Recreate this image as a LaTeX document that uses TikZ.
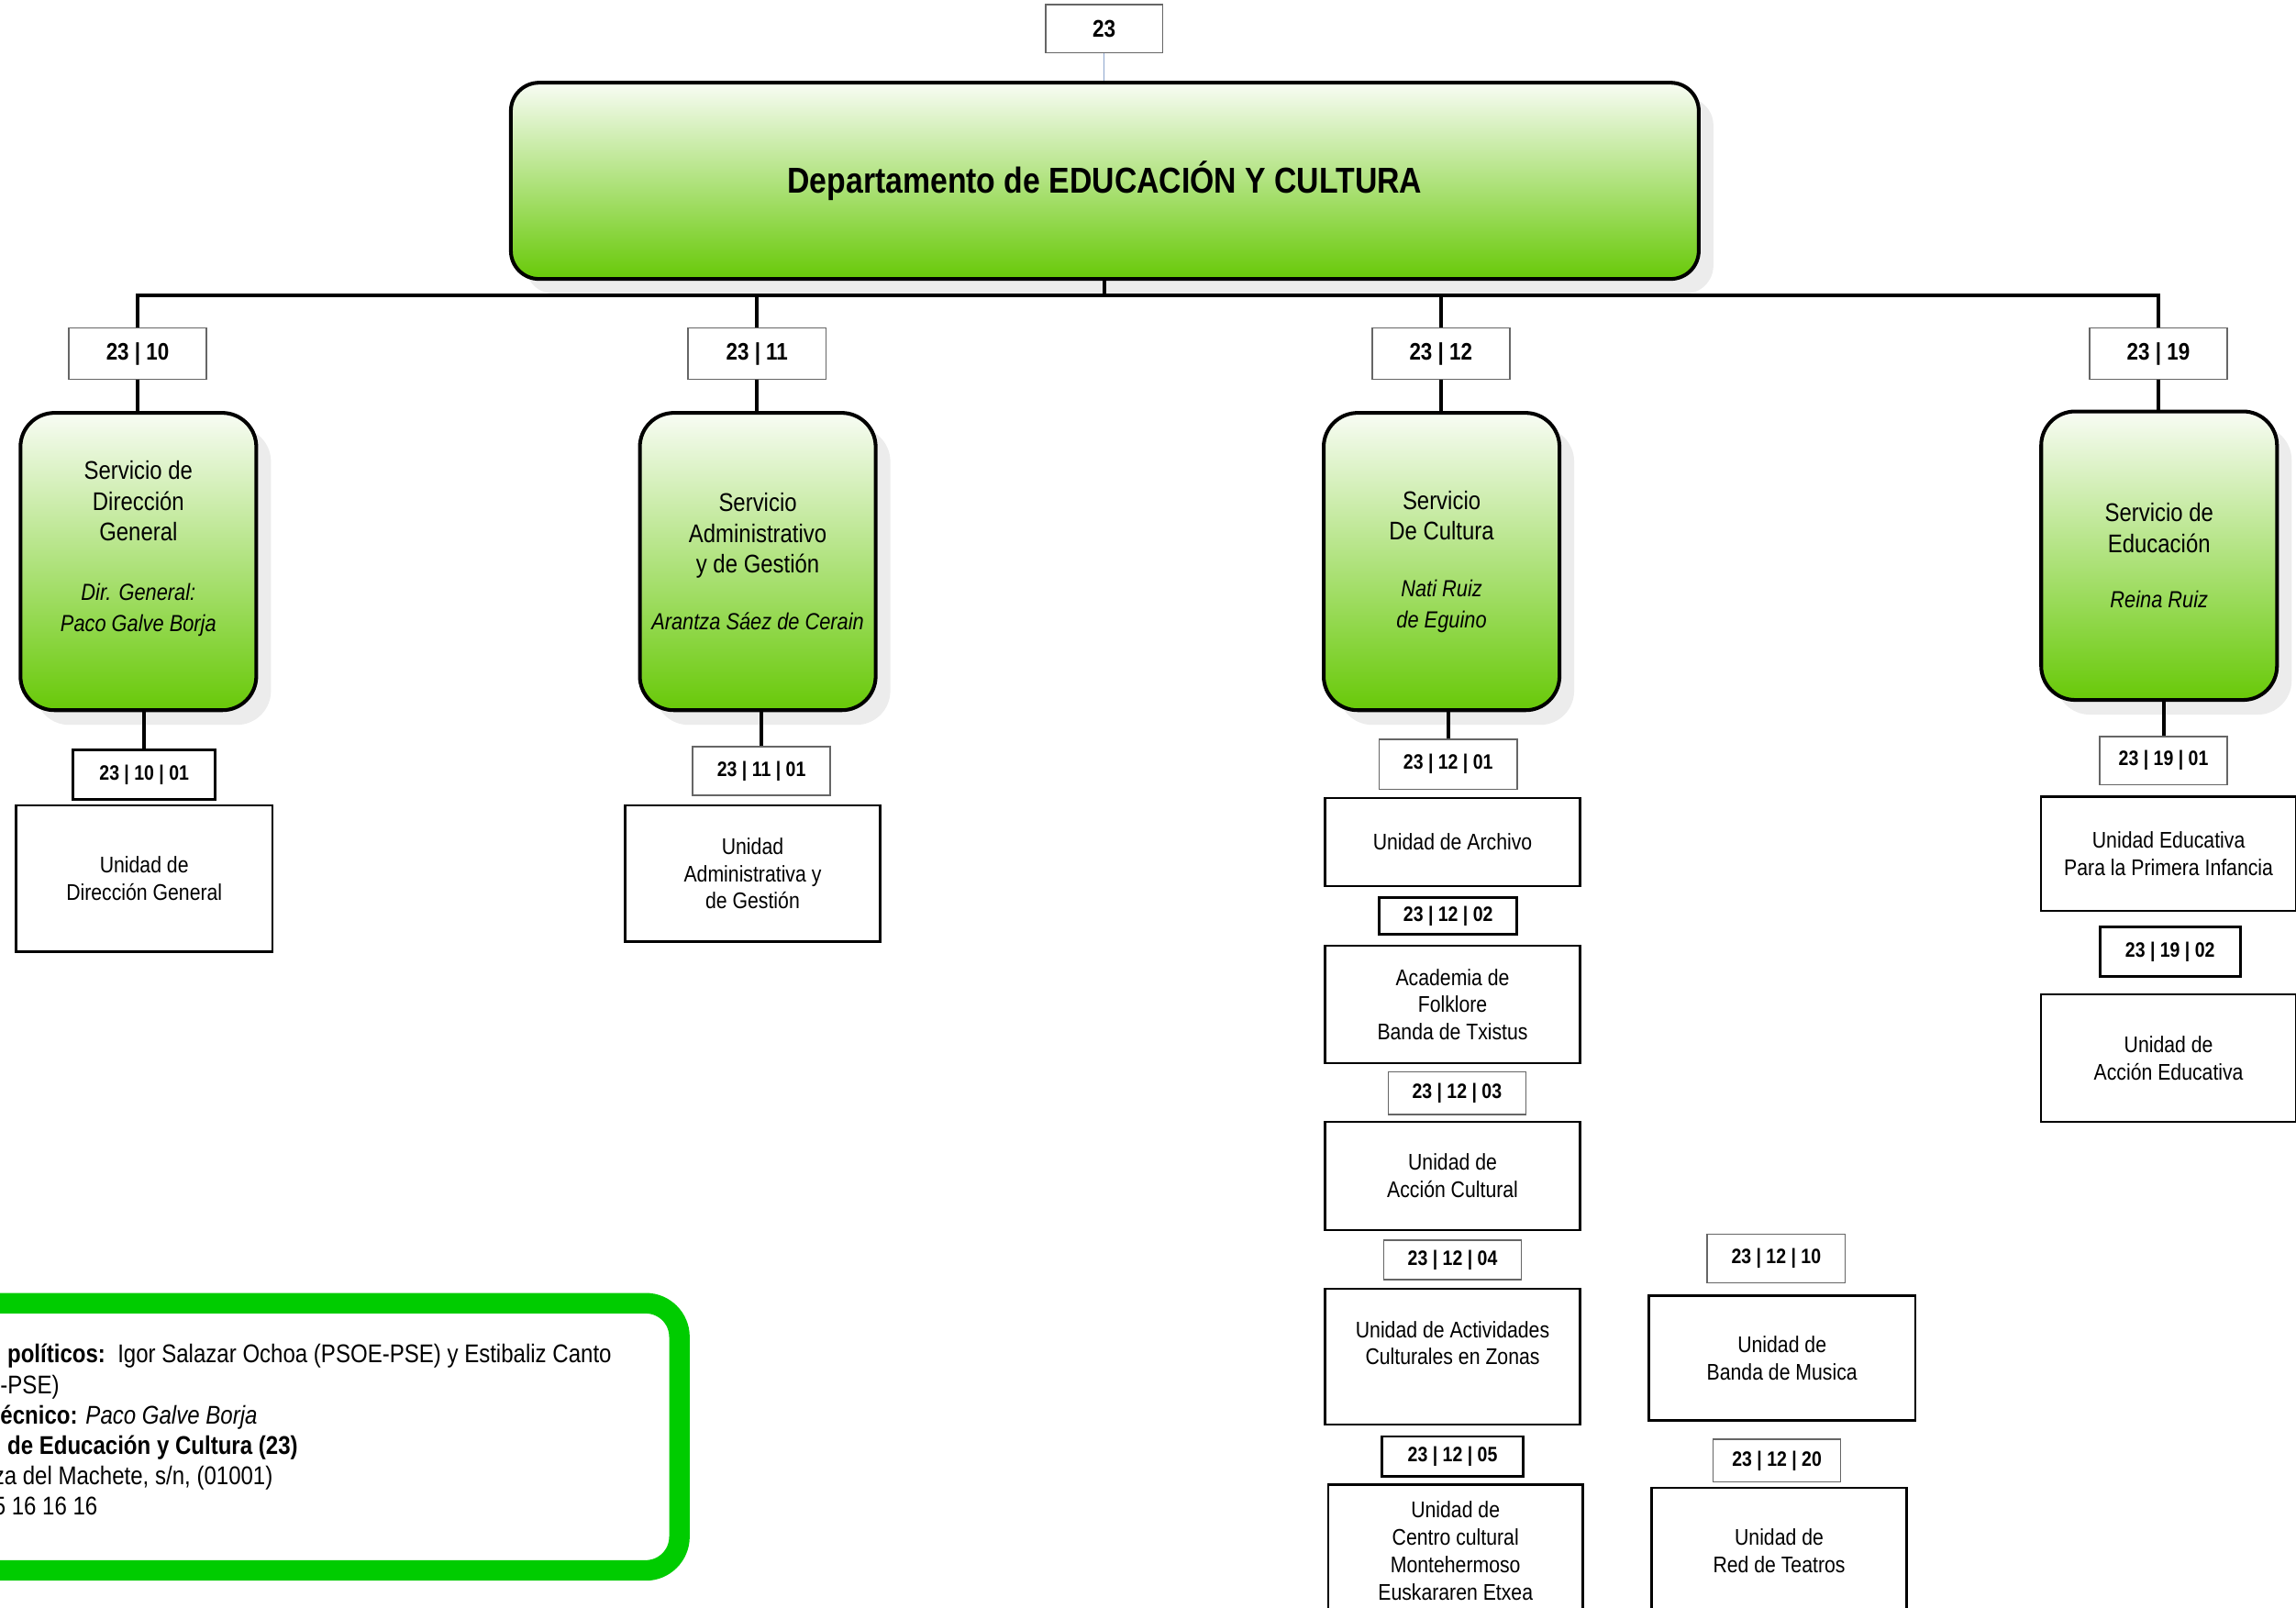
\documentclass[tikz,border=0pt]{standalone}
\usepackage{fontspec}
\setmainfont{Liberation Sans}[FakeStretch=0.86]
\usepackage{tikz}
\usetikzlibrary{shadows, positioning}
\definecolor{cLeaf}{RGB}{104,201,8}
\definecolor{cPale}{RGB}{248,252,244}
\definecolor{cLime}{RGB}{0,204,0}
\definecolor{cLink}{RGB}{140,165,205}
\definecolor{cShade}{RGB}{236,236,236}
\newcommand{\jefe}[1]{{\fontsize{11.3}{14}\selectfont\itshape #1}}
\tikzset{
	deptbox/.style  ={rectangle, rounded corners=0.48cm, draw=black, line width=1.8pt, top color=cPale, bottom color=cLeaf, align=center, font=\fontsize{17.5}{21}\selectfont\bfseries, drop shadow={shadow xshift=0.25cm, shadow yshift=-0.25cm, fill=cShade, opacity=1}},
	servbox/.style  ={rectangle, rounded corners=0.58cm, draw=black, line width=1.8pt, top color=cPale, bottom color=cLeaf, minimum width=4.025cm, minimum height=5.075cm, align=center, font=\fontsize{12.4}{14.9}\selectfont, drop shadow={shadow xshift=0.25cm, shadow yshift=-0.25cm, fill=cShade, opacity=1}},
	% code boxes
	codebox/.style  ={rectangle, draw=black!60, line width=0.7pt, fill=white, minimum width=2.35cm, minimum height=0.825cm, inner sep=0pt, font=\fontsize{10.1}{12}\selectfont\bfseries},
	codethick/.style={codebox, draw=black, line width=1.3pt},
	codetop/.style  ={codebox, minimum height=0.875cm, font=\fontsize{11.6}{14}\selectfont\bfseries},
	% units
	unitbox/.style  ={rectangle, draw=black, line width=1.1pt, fill=white, minimum width=4.35cm, inner sep=0pt, align=center, font=\fontsize{11}{13.3}\selectfont},
	trunk/.style    ={line width=1.8pt, black},
	legendframe/.style={draw=cLime, line width=0.35cm, rounded corners=0.575cm},
}

\begin{document}
\begin{tikzpicture}[x=0.025cm, y=-0.025cm]
	\path[use as bounding box] (0,0) rectangle (1568,1098);
	\clip (0,0) rectangle (1568,1098);
	\fill[white] (0,0) rectangle (1568,1098);

	\node[codebox, minimum width=2cm, font=\fontsize{11.7}{14}\selectfont\bfseries] (d23) at (754,19.5) {23};
	\node[deptbox, minimum width=20.275cm, minimum height=3.35cm] (dep) at (754.5,123.5) {Departamento de EDUCACIÓN Y CULTURA};
	\draw[cLink, line width=0.6pt] (d23.south) -- (d23.south |- dep.north);

	\node[codetop] (c10) at (94,241.5) {23 | 10};
	\node[codetop] (c11) at (517,241.5) {23 | 11};
	\node[codetop] (c12) at (984,241.5) {23 | 12};
	\node[codetop] (c19) at (1474,241.5) {23 | 19};

	\coordinate (bus) at (754,202);
	\draw[trunk] (dep.south) -- (dep.south |- bus);
	\draw[trunk] (c10.north) -- (c10.north |- bus) -- (c19.north |- bus) -- (c19.north);
	\draw[trunk] (c11.north) -- (c11.north |- bus);
	\draw[trunk] (c12.north) -- (c12.north |- bus);

	\node[servbox] (s10) at (94.5,383.5) {Servicio de\\Dirección\\General\\[0.5cm]\jefe{Dir. General:}\\\jefe{Paco Galve Borja}\\\mbox{}};
	\node[servbox] (s11) at (517.5,383.5) {Servicio\\Administrativo\\y de Gestión\\[0.45cm]\jefe{Arantza Sáez de Cerain}};
	\node[servbox] (s12) at (984.5,383.5) {Servicio\\De Cultura\\[0.45cm]\jefe{Nati Ruiz}\\\jefe{de Eguino}};
	\node[servbox, minimum height=4.925cm] (s19) at (1474.5,379.5) {Servicio de\\Educación\\[0.42cm]\jefe{Reina Ruiz}};

	\draw[trunk] (c10.south) -- (c10.south |- s10.north);
	\draw[trunk] (c11.south) -- (c11.south |- s11.north);
	\draw[trunk] (c12.south) -- (c12.south |- s12.north);
	\draw[trunk] (c19.south) -- (c19.south |- s19.north);

	% Direccion General
	\node[codethick, minimum width=2.425cm, minimum height=0.85cm] (c1001) at (98.5,529) {23 | 10 | 01};
	\node[unitbox, minimum width=4.375cm, minimum height=2.5cm] (u1001) at (98.5,600) {Unidad de\\Dirección General};
	\draw[trunk] (c1001.north |- s10.south) -- (c1001.north);

	% Administrativo
	\node[codebox] (c1101) at (520,526.5) {23 | 11 | 01};
	\node[unitbox, minimum height=2.325cm] (u1101) at (514,596.5) {Unidad\\Administrativa y\\de Gestión};
	\draw[trunk] (c1101.north |- s11.south) -- (c1101.north);

	% Cultura
	\node[codebox, minimum height=0.85cm] (c1201) at (989,522) {23 | 12 | 01};
	\node[unitbox, minimum height=1.5cm] (u1201) at (992,575) {Unidad de Archivo};
	\node[codethick, minimum height=0.625cm] (c1202) at (989,625.5) {23 | 12 | 02};
	\node[unitbox, minimum height=2cm] (u1202) at (992,686) {Academia de\\Folklore\\Banda de Txistus};
	\node[codebox, minimum height=0.725cm] (c1203) at (995,746.5) {23 | 12 | 03};
	\node[unitbox, minimum height=1.85cm] (u1203) at (992,803) {Unidad de\\Acción Cultural};
	\node[codebox, minimum height=0.675cm] (c1204) at (992,860.5) {23 | 12 | 04};
	\node[unitbox, minimum height=2.325cm] (u1204) at (992,926.5) {Unidad de Actividades\\Culturales en Zonas\\\mbox{}};
	\node[codethick, minimum width=2.4cm, minimum height=0.675cm] (c1205) at (992,994.5) {23 | 12 | 05};
	\node[unitbox, minimum height=2.25cm] (u1205) at (994,1059) {Unidad de\\Centro cultural\\Montehermoso\\Euskararen Etxea};
	\node[codebox] (c1210) at (1213,859.5) {23 | 12 | 10};
	\node[unitbox, minimum width=4.55cm, minimum height=2.125cm] (u1210) at (1217,927.5) {Unidad de\\Banda de Musica};
	\node[codebox, minimum width=2.175cm, minimum height=0.725cm] (c1220) at (1213.5,997.5) {23 | 12 | 20};
	\node[unitbox, minimum height=2.15cm] (u1220) at (1215,1059) {Unidad de\\Red de Teatros};
	\draw[trunk] (c1201.north |- s12.south) -- (c1201.north);

	% Educacion
	\node[codebox, minimum width=2.175cm] (c1901) at (1477.5,519.5) {23 | 19 | 01};
	\node[unitbox, minimum height=1.95cm] (u1901) at (1481,583) {Unidad Educativa\\Para la Primera Infancia};
	\node[codethick, minimum width=2.4cm, minimum height=0.85cm] (c1902) at (1482,650) {23 | 19 | 02};
	\node[unitbox, minimum height=2.175cm] (u1902) at (1481,722.5) {Unidad de\\Acción Educativa};
	\draw[trunk] (c1901.north |- s19.south) -- (c1901.north);

	% leyenda
	\draw[legendframe] (-40,890) rectangle (464,1072.5);
	\node[anchor=west, align=left, inner sep=0pt, font=\fontsize{12.45}{14.8}\selectfont] (datos) at (0,976.5)
		{\hspace*{0.12cm}\textbf{políticos:}\ \ Igor Salazar Ochoa (PSOE-PSE) y Estibaliz Canto\\
		-PSE)\\
		\textbf{écnico:} \textit{Paco Galve Borja}\\
		\hspace*{0.12cm}\textbf{de Educación y Cultura (23)}\\
		\hspace*{-0.12cm}za del Machete, s/n, (01001)\\
		\hspace*{-0.12cm}5 16 16 16};
\end{tikzpicture}
\end{document}
